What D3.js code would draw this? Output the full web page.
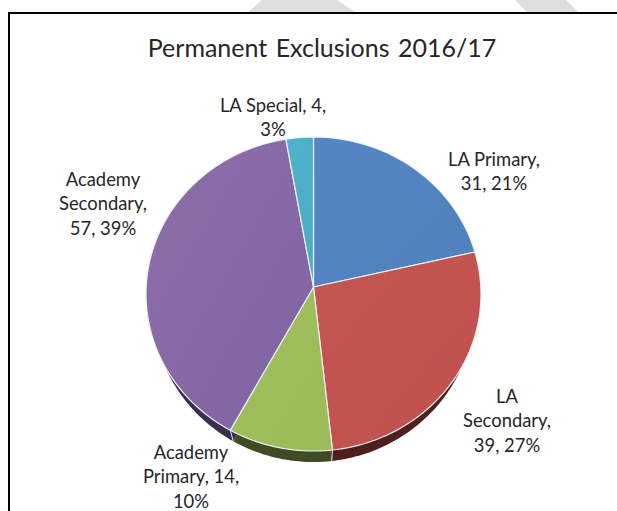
<!DOCTYPE html>
<html>
<head>
    <title>Permanent Exclusions 2016/17</title>
    <script src="https://d3js.org/d3.v7.min.js"></script>
    <style>
        html, body { margin: 0; padding: 0; background: #fff; overflow: hidden; }
        text { font-family: Lato, "Open Sans", sans-serif; fill: #262626; }
    </style>
</head>
<body>
    <div id="chart"></div>
    <script>
        var title = "Permanent Exclusions 2016/17";
        var categories = ["LA Primary", "LA Secondary", "Academy Primary", "Academy Secondary", "LA Special"];
        var values = [31, 39, 14, 57, 4];
        var labelLines = [
            ["LA Primary,", "31, 21%"],
            ["LA", "Secondary,", "39, 27%"],
            ["Academy", "Primary, 14,", "10%"],
            ["Academy", "Secondary,", "57, 39%"],
            ["LA  Special, 4,", "3%"]
        ];

        var width = 617, height = 511;

        // where each label block sits, same order as categories
        var labelX = [494, 507, 191, 103, 273];
        var labelY = [166, 403, 459, 186, 112];
        var lineHeight = 24.3;

        var faceColors = ["#4F81BD", "#C0504D", "#9BBB59", "#8064A2", "#4BACC6"];
        var lightColors = ["#5386C2", "#C45652", "#A0BF5E", "#8C6EAA", "#50B2CA"];
        var sideColors = ["#2A4566", "#4F1F1E", "#3E4B23", "#3A2D4E", "#225A68"];

        var svg = d3.select("#chart").append("svg")
            .attr("width", width)
            .attr("height", height)
            .style("display", "block");

        // grey bands behind the page, cut off by the box
        var bands = [
            [[262, 0], [337, 0], [355, 12], [248, 12]],
            [[515, 0], [566, 0], [578, 12], [527, 12]]
        ];
        svg.selectAll(".band")
            .data(bands)
            .enter().append("polygon")
            .attr("class", "band")
            .attr("points", function (d) { return d.join(" "); })
            .style("fill", "#dedede");

        // box (no bottom or right edge in the crop)
        svg.append("path")
            .attr("d", "M9,511V13H617")
            .style("fill", "none")
            .style("stroke", "#000")
            .style("stroke-width", 2);

        svg.append("text")
            .attr("x", 322)
            .attr("y", 57)
            .attr("text-anchor", "middle")
            .style("font-size", "25px")
            .style("word-spacing", "2px")
            .text(title);

        // the pie is tilted: rim is an ellipse, the slices meet above its centre
        var x = d3.scaleLinear().domain([-1, 1]).range([146, 481]);
        var y = d3.scaleLinear().domain([-1, 1]).range([137, 451]);
        var sideX = d3.scaleLinear().domain([-1, 1]).range([152, 475]);
        var apex = [313.5, 287];
        var depth = 11;
        var tilt = (y(0) - apex[1]) / (y(1) - y(0));

        var pie = d3.pie().sort(null);
        var slices = pie(values);

        var line = d3.line();

        // perspective moves the angles towards the far edge
        function rimPoint(a, sx, dy) {
            var c = Math.cos(a), s = Math.sin(a);
            var w = 1 + tilt * c;
            var cosT = (c + tilt) / w;
            var sinT = s * Math.sqrt(1 - tilt * tilt) / w;
            return [sx(sinT), y(-cosT) + dy];
        }

        function slicePath(d, sx, dy) {
            var n = Math.max(2, Math.ceil((d.endAngle - d.startAngle) * 40));
            var rim = d3.range(n + 1).map(function (i) {
                return rimPoint(d.startAngle + (d.endAngle - d.startAngle) * i / n, sx, dy);
            });
            return line([[apex[0], apex[1] + dy]].concat(rim)) + "Z";
        }

        var defs = svg.append("defs");
        slices.forEach(function (d, i) {
            var g = defs.append("linearGradient")
                .attr("id", "face" + i)
                .attr("x1", 0).attr("y1", 0)
                .attr("x2", 1).attr("y2", 1);
            g.append("stop").attr("offset", "0%").attr("stop-color", lightColors[i]);
            g.append("stop").attr("offset", "100%").attr("stop-color", faceColors[i]);
        });

        // thickness first, then faces on top
        svg.append("g").selectAll("path")
            .data(slices)
            .enter().append("path")
            .attr("d", function (d) { return slicePath(d, sideX, depth); })
            .style("fill", function (d, i) { return sideColors[i]; });

        // pale seam down the thickness where slices meet at the front
        svg.append("g").selectAll("line")
            .data(slices.filter(function (d) {
                return Math.cos(d.endAngle) < -0.5 && d.endAngle < Math.PI * 1.5;
            }))
            .enter().append("line")
            .attr("x1", function (d) { return rimPoint(d.endAngle, x, 0)[0]; })
            .attr("y1", function (d) { return rimPoint(d.endAngle, x, 0)[1]; })
            .attr("x2", function (d) { return rimPoint(d.endAngle, sideX, depth)[0]; })
            .attr("y2", function (d) { return rimPoint(d.endAngle, sideX, depth)[1]; })
            .style("stroke", "#e4e8e0")
            .style("stroke-width", 1);

        svg.append("g").selectAll("path")
            .data(slices)
            .enter().append("path")
            .attr("d", function (d) { return slicePath(d, x, 0); })
            .style("fill", function (d, i) { return "url(#face" + i + ")"; })
            .style("stroke", "#eef1f4")
            .style("stroke-width", 1.2)
            .style("stroke-linejoin", "round");

        // data labels
        var labels = svg.append("g").selectAll("text")
            .data(labelLines)
            .enter().append("text")
            .attr("text-anchor", "middle")
            .attr("y", function (d, i) { return labelY[i]; })
            .style("font-size", "18.4px");

        labels.each(function (lines, i) {
            d3.select(this).selectAll("tspan")
                .data(lines)
                .enter().append("tspan")
                .attr("x", labelX[i])
                .attr("y", function (d, j) { return labelY[i] + j * lineHeight; })
                .text(function (d) { return d; });
        });
    </script>
</body>
</html>
